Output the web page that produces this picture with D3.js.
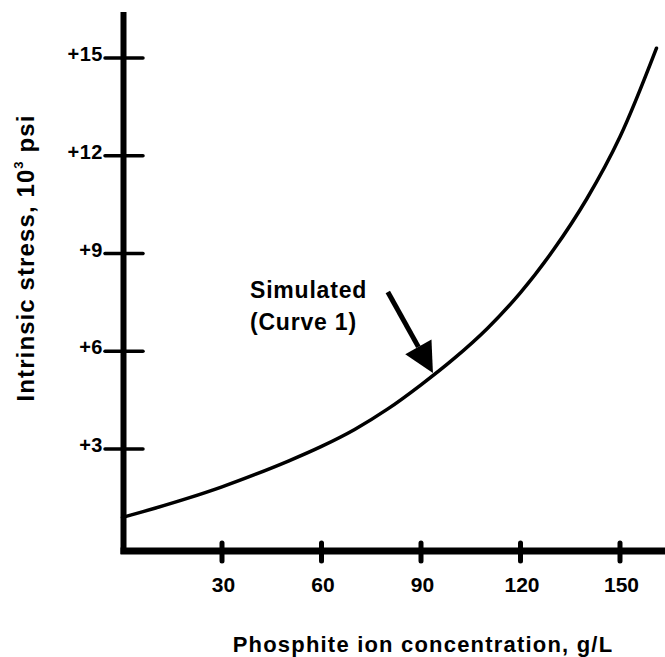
<!DOCTYPE html>
<html>
<head>
<meta charset="utf-8">
<script src="https://cdn.jsdelivr.net/npm/d3@7"></script>
<style>
  html, body { margin: 0; padding: 0; background: #fff; }
  svg { display: block; }
  text { font-family: "Liberation Sans", Arial, Helvetica, sans-serif; font-weight: bold; fill: #000; }
</style>
</head>
<body>
<svg id="chart" width="665" height="657"></svg>
<script>
// ---- data ----
const concentration = [0, 10, 20, 30, 40, 50, 60, 70, 80, 90, 100, 110, 120, 130, 140, 150, 161];
const stress        = [0.9, 1.19, 1.5, 1.84, 2.22, 2.63, 3.08, 3.6, 4.23, 4.97, 5.78, 6.7, 7.8, 9.12, 10.68, 12.58, 15.3];
const xTicks = [30, 60, 90, 120, 150];
const yTicks = [3, 6, 9, 12, 15];
const yTickLabels = ["+3", "+6", "+9", "+12", "+15"];
const annotationLines = ["Simulated", "(Curve 1)"];
const arrowTail = [80, 7.82];
const arrowTip = [93.6, 5.33];

const svg = d3.select("#chart");
const x = d3.scaleLinear().domain([0, 150]).range([122.5, 620]);
const y = d3.scaleLinear().domain([0, 15]).range([546.75, 58]);

// axes lines
svg.append("line").attr("x1", 123.5).attr("x2", 123.5).attr("y1", 12).attr("y2", 554)
  .attr("stroke", "#000").attr("stroke-width", 6);
svg.append("line").attr("x1", 120.5).attr("x2", 665).attr("y1", 551).attr("y2", 551)
  .attr("stroke", "#000").attr("stroke-width", 7);

// y ticks
const yt = svg.append("g");
yTicks.forEach((t, i) => {
  yt.append("line").attr("x1", 105).attr("x2", 143).attr("y1", y(t)).attr("y2", y(t))
    .attr("stroke", "#000").attr("stroke-width", 3.5).attr("stroke-linecap", "round");
  yt.append("text").attr("x", 103).attr("y", y(t) + 3).attr("text-anchor", "end")
    .attr("font-size", 20).attr("letter-spacing", 0.5).text(yTickLabels[i]);
});

// x ticks
const xt = svg.append("g");
xTicks.forEach(t => {
  xt.append("line").attr("x1", x(t)).attr("x2", x(t)).attr("y1", 543).attr("y2", 561)
    .attr("stroke", "#000").attr("stroke-width", 5).attr("stroke-linecap", "round");
  xt.append("text").attr("x", x(t) + 1.5).attr("y", 592).attr("text-anchor", "middle")
    .attr("font-size", 21).text(t);
});

// curve
const data = concentration.map((c, i) => [c, stress[i]]);
const line = d3.line().x(d => x(d[0])).y(d => y(d[1])).curve(d3.curveCatmullRom.alpha(0.5));
svg.append("path").datum(data).attr("d", line)
  .attr("fill", "none").attr("stroke", "#000").attr("stroke-width", 3.5)
  .attr("stroke-linecap", "round");

// annotation
const ann = svg.append("text").attr("font-size", 23).attr("letter-spacing", 0.8);
annotationLines.forEach((s, i) => {
  ann.append("tspan").attr("x", 250).attr("y", 298 + i * 32).text(s);
});

// arrow
const tx = x(arrowTail[0]), ty = y(arrowTail[1]);
const hx = x(arrowTip[0]), hy = y(arrowTip[1]);
const ang = Math.atan2(hy - ty, hx - tx);
const headLen = 30, headW = 15;
const bx = hx - headLen * Math.cos(ang), by = hy - headLen * Math.sin(ang);
svg.append("line").attr("x1", tx).attr("y1", ty).attr("x2", bx).attr("y2", by)
  .attr("stroke", "#000").attr("stroke-width", 5);
const px = -Math.sin(ang), py = Math.cos(ang);
svg.append("path")
  .attr("d", `M${hx},${hy} L${bx + px * headW},${by + py * headW} L${bx - px * headW},${by - py * headW} Z`)
  .attr("fill", "#000");

// axis titles
svg.append("text").attr("x", 423).attr("y", 652).attr("text-anchor", "middle")
  .attr("font-size", 22).attr("letter-spacing", 1.2).text("Phosphite ion concentration, g/L");

const yl = svg.append("text").attr("transform", "translate(34,258) rotate(-90)")
  .attr("text-anchor", "middle").attr("font-size", 24).attr("letter-spacing", 1.1);
yl.append("tspan").text("Intrinsic stress, 10");
yl.append("tspan").attr("font-size", 13).attr("dy", -11).text("3");
yl.append("tspan").attr("dy", 11).text(" psi");
</script>
</body>
</html>
